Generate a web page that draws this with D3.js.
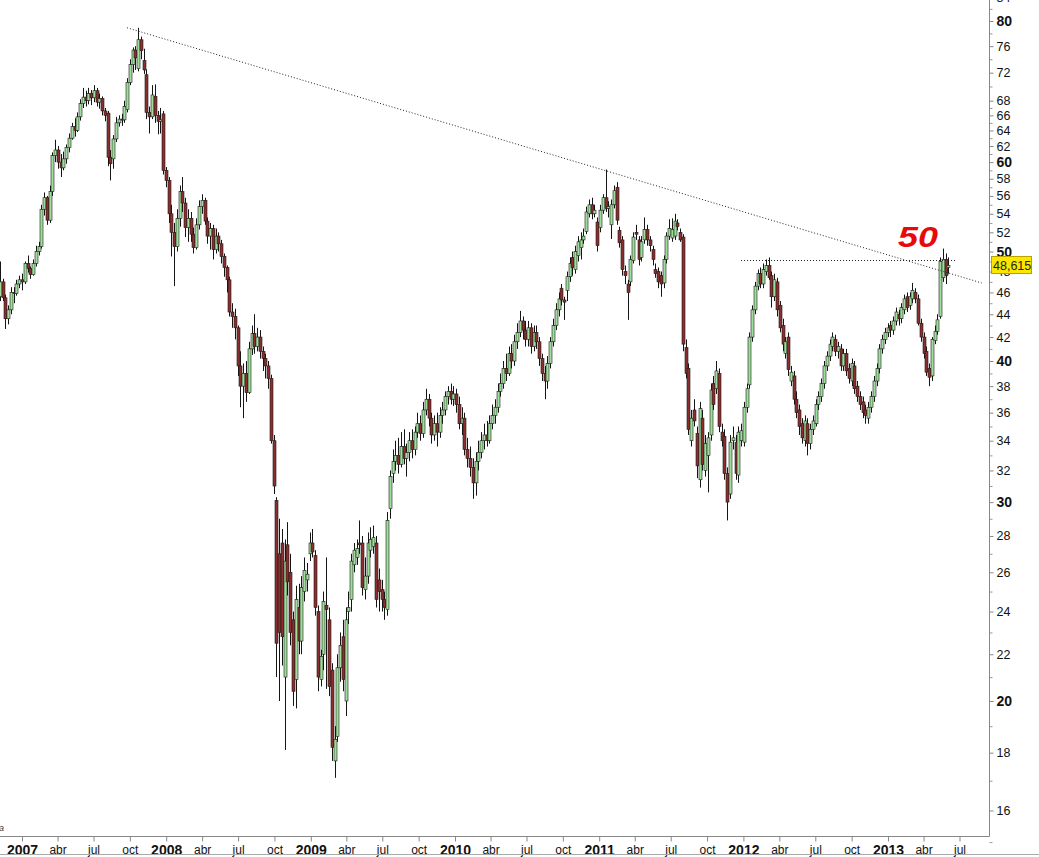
<!DOCTYPE html>
<html>
<head>
<meta charset="utf-8">
<script src="https://cdn.jsdelivr.net/npm/d3@7"></script>
<style>
  html, body { margin: 0; padding: 0; background: #fff; }
  svg { display: block; font-family: "Liberation Sans", Arial, sans-serif; }
</style>
</head>
<body>
<svg id="chart" width="1039" height="857"></svg>
<script>
// weekly candles, first week starting on this monday
const firstWeek = "2006-11-06";

const opens = [
  45.6,47.0,45.5,43.6,44.4,46.0,45.9,46.8,47.2,47.0,
  48.8,48.3,47.7,48.8,50.0,50.5,54.5,55.8,53.3,56.5,
  60.8,61.5,60.0,59.3,60.4,61.8,63.0,64.5,64.0,65.8,
  67.6,68.5,68.0,69.0,68.4,69.4,67.8,68.3,66.6,66.3,
  60.6,60.4,62.9,65.0,65.5,65.4,66.8,70.6,73.2,75.4,
  72.6,77.0,73.8,71.7,66.4,65.8,68.6,66.0,65.2,66.2,
  59.0,57.8,54.0,52.0,50.5,53.5,56.5,55.2,52.5,53.5,
  51.8,50.4,52.8,54.8,55.5,53.2,51.6,52.4,50.2,51.6,
  50.8,49.5,48.4,47.2,44.2,43.8,42.8,39.6,38.0,39.0,
  37.5,41.0,42.3,41.2,42.0,40.8,40.2,39.6,38.6,34.0,
  30.1,27.0,27.6,21.0,27.5,26.0,23.6,20.9,24.2,22.6,
  25.0,25.6,27.0,27.6,26.9,24.0,20.9,22.0,24.3,23.6,
  21.3,17.7,18.6,21.4,22.8,20.0,24.0,24.6,26.4,26.8,
  27.6,27.6,25.1,25.8,27.2,27.4,27.6,25.6,25.1,24.6,
  24.1,29.6,31.8,32.6,33.0,32.4,33.6,32.8,33.2,34.0,
  33.4,34.6,35.2,34.5,36.2,37.0,35.6,34.4,35.2,34.6,
  35.8,36.2,37.2,37.6,37.0,37.4,36.6,35.2,35.6,33.4,
  32.8,32.2,31.2,32.6,33.2,34.0,34.4,34.0,35.2,35.8,
  36.4,37.6,38.2,39.4,39.0,40.6,40.0,41.6,42.4,43.4,
  42.6,41.8,42.8,41.2,42.4,41.6,40.2,39.0,38.4,39.8,
  41.6,43.0,44.4,46.4,45.3,46.2,47.5,49.4,48.2,49.6,
  50.4,51.2,52.1,54.0,55.0,54.0,53.1,52.5,54.4,55.8,
  54.6,52.8,55.0,57.0,52.2,51.2,48.0,46.8,47.0,49.1,
  52.0,51.2,49.4,51.2,52.3,51.2,50.2,48.2,48.0,47.6,
  46.9,49.2,51.6,51.4,51.6,53.0,52.0,51.5,41.1,39.4,
  34.0,36.2,34.5,31.4,35.6,32.0,33.0,34.4,38.2,37.8,
  39.0,34.6,34.3,31.8,30.5,34.0,33.9,31.7,34.0,33.9,
  36.4,38.1,42.0,44.4,46.6,47.8,46.8,48.0,48.6,47.6,
  45.6,47.0,44.8,43.0,40.6,42.0,38.4,38.8,37.0,36.2,
  35.2,34.0,35.2,33.8,34.8,35.2,36.6,37.2,38.2,39.6,
  40.4,41.2,41.8,40.8,41.0,39.6,40.6,39.4,38.4,39.6,
  38.0,37.2,36.8,36.2,35.6,36.4,37.2,38.4,39.4,41.0,
  41.8,42.4,43.0,42.6,43.4,44.0,43.6,44.4,45.6,44.8,
  45.4,46.0,45.4,43.2,42.0,40.8,39.4,38.8,41.7,42.5,
  43.8,47.4,49.2,48.4
];

const highs = [
  49.0,47.3,45.8,44.8,46.5,46.5,47.2,47.6,47.8,49.0,
  49.6,48.5,49.2,50.6,51.0,55.0,56.4,56.0,57.2,61.2,
  62.8,62.0,61.0,61.3,62.2,63.6,65.0,65.6,66.4,68.2,
  69.8,69.4,69.8,69.5,70.2,69.8,69.0,68.6,67.0,66.6,
  61.5,63.4,65.8,66.0,66.2,68.0,71.2,74.0,75.8,76.0,
  78.9,77.5,75.6,72.5,67.2,70.2,70.3,66.6,67.0,66.6,
  59.4,58.2,55.0,53.0,54.5,57.2,58.2,55.8,54.5,54.2,
  52.5,53.5,55.5,56.2,55.8,53.6,53.0,52.8,52.4,52.0,
  51.2,49.8,48.6,47.5,45.0,44.5,43.0,40.8,39.8,40.0,
  41.6,43.0,44.0,42.8,42.6,41.2,40.6,40.0,38.9,34.4,
  30.3,29.0,28.4,27.8,28.8,27.0,24.0,25.3,25.4,25.8,
  26.8,26.5,28.2,28.4,27.2,24.3,22.2,25.0,26.8,24.2,
  21.6,19.0,22.0,23.0,23.6,24.2,25.0,27.0,27.6,27.8,
  28.9,28.0,26.8,28.2,28.5,28.6,28.0,26.2,25.6,25.0,
  29.4,32.0,33.4,34.0,34.2,34.6,34.8,33.8,34.6,34.8,
  35.0,36.0,35.8,36.8,37.8,37.4,36.0,35.8,36.0,36.4,
  36.8,37.6,38.0,38.2,38.0,37.8,37.2,36.4,36.0,34.2,
  33.6,32.8,33.2,34.0,34.6,35.2,35.4,35.8,36.6,37.0,
  38.2,39.0,40.0,40.6,41.2,41.4,42.2,43.2,44.3,43.8,
  43.4,43.4,43.2,43.0,43.0,42.0,40.6,39.6,40.4,42.0,
  43.6,45.0,46.0,46.8,45.6,48.0,49.4,50.0,50.6,51.6,
  52.0,52.4,54.8,55.6,55.8,55.0,53.6,55.0,56.2,59.1,
  55.4,55.6,57.2,57.6,52.6,51.6,48.6,47.2,49.6,52.0,
  52.8,51.6,51.6,53.6,52.8,51.6,50.6,48.8,48.4,48.0,
  49.6,52.0,53.4,53.5,54.0,53.4,52.4,51.8,41.8,39.8,
  36.2,37.0,35.0,36.8,36.2,34.4,34.6,38.2,38.8,40.0,
  39.4,35.2,34.8,32.2,34.4,35.0,34.4,35.0,35.2,36.8,
  38.2,42.4,44.8,47.0,48.2,48.4,48.8,49.2,49.4,48.0,
  47.8,47.4,45.2,43.6,42.0,42.4,39.6,39.2,37.6,36.6,
  35.6,35.8,35.6,35.2,35.8,37.0,37.6,38.6,40.0,40.8,
  41.8,42.4,42.2,41.6,41.4,41.0,41.0,39.8,40.2,40.0,
  38.4,37.6,37.2,36.6,36.8,37.6,38.8,39.8,41.4,42.2,
  42.8,43.2,43.4,43.8,44.6,44.4,45.0,45.8,46.0,46.0,
  46.9,46.4,45.8,43.6,42.4,41.2,39.8,42.0,43.0,44.0,
  49.4,50.3,49.8,49.4
];

const lows = [
  45.2,45.2,42.7,43.1,44.0,45.0,45.7,46.4,46.2,46.8,
  47.9,47.3,47.6,48.5,49.6,50.3,53.8,52.8,53.0,56.0,
  60.0,59.2,58.2,59.0,59.8,61.2,62.8,63.2,63.8,65.3,
  67.0,67.2,67.5,67.4,67.8,67.2,66.9,66.0,65.2,59.5,
  57.8,59.2,62.5,64.5,64.6,65.0,66.4,70.2,72.0,72.4,
  72.2,74.0,71.8,65.5,63.6,65.5,65.0,63.5,63.6,58.5,
  57.0,53.0,49.5,46.6,50.0,52.6,54.2,51.5,51.0,51.0,
  49.8,50.2,52.3,54.0,52.8,50.8,50.2,49.2,49.8,50.0,
  48.8,47.5,46.0,43.8,42.8,41.8,38.8,36.4,35.6,36.8,
  37.4,40.5,40.6,40.8,40.2,39.2,38.6,37.8,33.8,30.5,
  21.0,20.0,21.5,18.1,24.8,22.4,19.8,19.7,22.0,22.0,
  24.5,25.0,26.6,26.8,23.8,20.4,20.6,21.3,20.5,20.2,
  17.7,17.1,18.4,20.8,20.4,19.4,23.4,24.0,26.0,26.4,
  27.0,24.8,24.6,25.4,26.8,27.0,24.2,24.0,24.0,23.6,
  23.8,29.0,31.2,32.0,31.8,32.2,32.4,31.6,32.6,32.8,
  33.0,34.2,34.0,34.2,35.8,35.0,33.8,34.0,33.6,34.2,
  35.2,35.8,36.6,36.6,36.5,36.0,34.8,34.4,33.0,32.2,
  31.6,30.2,30.4,32.0,32.8,33.4,33.6,33.8,34.8,35.2,
  36.0,37.2,37.8,38.4,38.8,39.4,39.6,41.0,42.0,41.8,
  41.2,41.2,40.6,40.8,41.0,39.6,38.4,37.0,37.8,39.4,
  41.2,42.6,43.8,44.8,43.5,45.2,47.0,47.6,47.8,49.0,
  49.2,50.8,51.8,53.6,53.4,53.6,50.0,52.0,54.0,54.2,
  53.6,51.3,54.6,52.8,50.4,47.6,46.8,43.5,46.6,48.8,
  51.2,48.6,49.0,50.8,50.6,50.0,48.6,47.4,46.4,45.6,
  46.4,48.8,51.2,51.0,51.2,52.2,51.0,40.8,38.6,34.4,
  33.6,35.0,31.5,30.9,32.0,31.6,30.6,34.0,36.2,37.4,
  34.6,33.6,31.4,28.9,30.2,33.4,31.4,31.2,33.6,33.6,
  36.0,37.8,41.6,44.0,46.2,46.4,46.4,47.6,47.2,44.6,
  45.2,43.8,42.4,40.8,40.2,38.8,38.0,36.6,35.6,34.4,
  33.8,33.6,33.0,33.4,34.4,35.0,36.2,36.8,37.8,39.2,
  40.0,40.8,40.4,40.2,39.2,39.2,38.8,38.2,38.0,37.4,
  36.8,36.2,35.6,35.2,35.2,36.0,36.8,38.0,39.0,40.6,
  41.4,42.0,42.0,42.2,43.0,43.0,43.2,44.0,44.2,44.4,
  45.0,45.0,43.0,41.6,40.2,38.8,38.0,38.4,41.4,42.2,
  43.6,47.0,46.8,47.8
];

const closes = [
  47.0,45.5,43.6,44.4,46.0,45.9,46.8,47.2,47.0,48.8,
  48.3,47.7,48.8,50.0,50.5,54.5,55.8,53.3,56.5,60.8,
  61.5,60.0,59.3,60.4,61.8,63.0,64.5,64.0,65.8,67.6,
  68.5,68.0,69.0,68.4,69.4,67.8,68.3,66.6,66.0,60.6,
  59.8,62.9,65.0,65.5,65.4,67.2,70.6,73.2,75.4,74.2,
  77.0,75.3,72.4,66.4,65.8,68.8,66.0,65.2,65.4,59.0,
  57.8,54.0,52.0,50.5,53.5,56.5,55.2,52.5,53.5,51.8,
  50.4,52.8,54.8,55.5,53.2,51.6,52.4,50.2,51.6,50.8,
  49.5,48.4,47.2,44.2,43.8,42.8,39.6,38.0,39.0,37.5,
  41.0,42.3,41.2,42.0,40.8,40.2,39.6,38.6,34.0,31.0,
  22.5,23.0,22.8,26.6,25.5,23.0,20.4,24.6,22.6,25.2,
  26.1,25.9,27.6,27.1,24.2,21.0,21.9,24.5,24.1,20.6,
  18.2,18.5,21.4,22.4,20.9,23.6,24.2,26.6,27.2,27.3,
  27.5,25.2,25.8,27.6,27.8,27.9,24.6,25.0,24.6,24.2,
  28.9,31.6,32.6,33.0,32.4,33.6,32.8,33.2,34.0,33.4,
  34.6,35.2,34.5,36.2,37.0,35.6,34.4,35.2,34.6,35.8,
  36.2,37.2,37.6,37.0,37.4,36.6,35.2,35.6,33.4,32.8,
  32.2,31.2,32.6,33.2,34.0,34.4,34.0,35.2,35.8,36.4,
  37.6,38.2,39.4,39.0,40.6,40.0,41.6,42.4,43.4,42.6,
  41.8,42.8,41.2,42.4,41.6,40.2,39.0,38.4,39.8,41.6,
  43.0,44.4,45.4,45.3,45.1,47.5,48.8,48.4,50.0,51.0,
  51.2,51.6,54.2,55.0,54.0,54.4,50.6,54.4,55.8,54.6,
  54.8,55.0,56.6,53.3,50.9,48.2,47.6,46.0,49.2,51.5,
  51.8,49.2,51.0,52.3,51.2,50.6,49.2,47.8,47.0,46.8,
  49.2,51.6,52.4,52.3,53.2,52.6,51.2,41.4,39.0,34.8,
  35.6,35.4,32.3,36.3,32.4,33.8,34.2,37.7,36.6,39.2,
  35.0,34.0,31.8,30.0,33.9,34.2,31.8,34.6,34.7,36.4,
  37.8,42.0,44.4,46.6,47.8,46.8,48.2,48.6,47.4,45.6,
  47.2,44.4,42.8,41.4,41.6,39.3,39.1,37.0,36.0,35.0,
  34.2,35.4,33.8,34.8,35.4,36.6,37.2,38.2,39.6,40.4,
  41.4,42.0,40.8,41.2,39.6,40.6,39.2,38.6,39.8,37.8,
  37.2,36.6,36.0,35.8,36.4,37.2,38.4,39.4,41.0,41.8,
  42.4,42.8,42.6,43.4,44.2,43.6,44.6,45.4,44.6,45.6,
  46.2,45.4,43.2,42.0,40.6,39.1,38.7,41.8,42.5,43.5,
  49.0,49.2,47.6,48.615
];

// right axis
const yLabels = [16,18,20,22,24,26,28,30,32,34,36,38,40,42,44,46,48,50,52,54,56,58,60,62,64,66,68,72,76,80,84];
const yBold = [20,30,40,50,60,80];
const yMinor = [15,17,19,21,23,25,27,29,31,33,35,37,39,41,43,45,47,49,51,53,55,57,59,61,63,65,67,70,74,78,82];

// bottom axis
const xTickDates = [
  "2007-01-01","2007-04-01","2007-07-01","2007-10-01",
  "2008-01-01","2008-04-01","2008-07-01","2008-10-01",
  "2009-01-01","2009-04-01","2009-07-01","2009-10-01",
  "2010-01-01","2010-04-01","2010-07-01","2010-10-01",
  "2011-01-01","2011-04-01","2011-07-01","2011-10-01",
  "2012-01-01","2012-04-01","2012-07-01","2012-10-01",
  "2013-01-01","2013-04-01","2013-07-01"
];
const xTickLabels = [
  "2007","abr","jul","oct","2008","abr","jul","oct","2009","abr","jul","oct",
  "2010","abr","jul","oct","2011","abr","jul","oct","2012","abr","jul","oct",
  "2013","abr","jul"
];

// drawn lines
const trendDates = ["2007-09-24","2013-08-26"];
const trendValues = [78.9, 46.9];
const levelDates = ["2011-12-26","2013-06-24"];
const levelValues = [49.1, 49.1];

const lastLabel = "48,615";
const lastValue = 48.615;
const noteText = "50";

const W = 1039, H = 857;
const plotRight = 989, plotBottom = 836;
const parse = d3.timeParse("%Y-%m-%d");

const svg = d3.select("#chart");

const x = d3.scaleTime()
  .domain([parse("2007-01-01"), parse("2013-01-01")])
  .range([22, 888]);
const y = d3.scaleLog()
  .domain([80, 20])
  .range([21, 701]);

const start = parse(firstWeek);
const candles = closes.map((c, i) => ({
  date: d3.timeDay.offset(start, 7 * i),
  o: opens[i], h: highs[i], l: lows[i], c: c
}));

svg.append("defs").append("clipPath").attr("id", "plotclip")
  .append("rect").attr("x", 0).attr("y", 0).attr("width", plotRight).attr("height", plotBottom);

const plot = svg.append("g").attr("clip-path", "url(#plotclip)");

// wicks
plot.append("g").selectAll("line")
  .data(candles)
  .enter()
  .append("line")
  .attr("x1", d => Math.round(x(d.date)) + 0.5)
  .attr("x2", d => Math.round(x(d.date)) + 0.5)
  .attr("y1", d => y(d.h))
  .attr("y2", d => y(d.l))
  .attr("stroke", "#151515")
  .attr("stroke-width", 1);

// bodies
plot.append("g").selectAll("rect")
  .data(candles)
  .enter()
  .append("rect")
  .attr("x", d => Math.round(x(d.date)) - 1)
  .attr("y", d => y(Math.max(d.o, d.c)))
  .attr("width", 3)
  .attr("height", d => Math.max(Math.abs(y(d.o) - y(d.c)), 1))
  .attr("fill", d => d.c >= d.o ? "#9ddf98" : "#8a2e2e")
  .attr("stroke", "#1d1d1d")
  .attr("stroke-width", 0.6);

// dotted trend line and level
plot.append("line")
  .attr("x1", x(parse(trendDates[0]))).attr("y1", y(trendValues[0]))
  .attr("x2", x(parse(trendDates[1]))).attr("y2", y(trendValues[1]))
  .attr("stroke", "#222").attr("stroke-width", 1)
  .attr("stroke-dasharray", "1,2");

plot.append("line")
  .attr("x1", x(parse(levelDates[0]))).attr("y1", Math.round(y(levelValues[0])) + 0.5)
  .attr("x2", x(parse(levelDates[1]))).attr("y2", Math.round(y(levelValues[1])) + 0.5)
  .attr("stroke", "#222").attr("stroke-width", 1)
  .attr("stroke-dasharray", "1,2");

// red note
svg.append("text")
  .attr("x", 898)
  .attr("y", 247)
  .attr("textLength", 40)
  .attr("lengthAdjust", "spacingAndGlyphs")
  .attr("font-size", 29)
  .attr("font-weight", "bold")
  .attr("font-style", "italic")
  .attr("fill", "#e60a0a")
  .text(noteText);

// right axis
const yAxis = d3.axisRight(y).tickValues(yLabels).tickSize(4).tickPadding(3).tickFormat(d3.format("d"));
const yg = svg.append("g")
  .attr("transform", `translate(${plotRight + 0.5},0)`)
  .call(yAxis);
yg.select(".domain").remove();
yg.selectAll(".tick line").attr("stroke", "#888");
yg.selectAll(".tick text")
  .attr("fill", "#111")
  .attr("font-size", d => yBold.includes(d) ? 14 : 12.5)
  .attr("font-weight", d => yBold.includes(d) ? "bold" : "normal")
  .attr("font-family", "'Liberation Sans', Arial, sans-serif");

const yMinorAxis = d3.axisRight(y).tickValues(yMinor).tickSize(3).tickFormat("");
const ymg = svg.append("g")
  .attr("transform", `translate(${plotRight + 0.5},0)`)
  .call(yMinorAxis);
ymg.select(".domain").remove();
ymg.selectAll(".tick line").attr("stroke", "#999");

// bottom axis
const xAxis = d3.axisBottom(x)
  .tickValues(xTickDates.map(parse))
  .tickSize(5)
  .tickPadding(4)
  .tickFormat((d, i) => xTickLabels[i]);
const xg = svg.append("g")
  .attr("transform", `translate(0,${plotBottom + 0.5})`)
  .call(xAxis);
xg.select(".domain").remove();
xg.selectAll(".tick line").attr("stroke", "#888");
xg.selectAll(".tick text")
  .attr("fill", "#111")
  .attr("font-size", (d, i) => /^\d+$/.test(xTickLabels[i]) ? 14 : 12)
  .attr("font-weight", (d, i) => /^\d+$/.test(xTickLabels[i]) ? "bold" : "normal")
  .attr("font-family", "'Liberation Sans', Arial, sans-serif");

// frame lines
svg.append("line")
  .attr("x1", plotRight + 0.5).attr("x2", plotRight + 0.5)
  .attr("y1", 0).attr("y2", plotBottom + 0.5)
  .attr("stroke", "#888");
svg.append("line")
  .attr("x1", 0).attr("x2", plotRight + 0.5)
  .attr("y1", plotBottom + 0.5).attr("y2", plotBottom + 0.5)
  .attr("stroke", "#888");
svg.append("line")
  .attr("x1", 0).attr("x2", W)
  .attr("y1", 854.5).attr("y2", 854.5)
  .attr("stroke", "#aaa");

// last price tag
const tagY = y(lastValue);
svg.append("rect")
  .attr("x", 991.5).attr("y", Math.round(tagY) - 8.5)
  .attr("width", 40).attr("height", 17)
  .attr("fill", "#fbe600")
  .attr("stroke", "#b9a200");
svg.append("text")
  .attr("x", 993).attr("y", Math.round(tagY) + 4.5)
  .attr("font-size", 12.5)
  .attr("fill", "#222")
  .text(lastLabel);

// cut-off mark at bottom left
svg.append("text")
  .attr("x", -1).attr("y", 831)
  .attr("font-size", 9)
  .attr("font-style", "italic")
  .attr("fill", "#333")
  .text("a");
</script>
</body>
</html>
